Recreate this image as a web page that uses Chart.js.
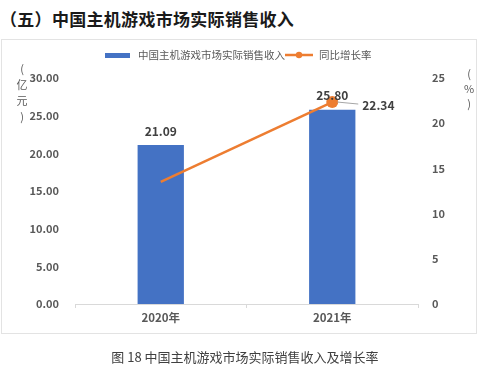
<!DOCTYPE html>
<html>
<head>
<meta charset="utf-8">
<script src="https://cdn.jsdelivr.net/npm/chart.js@4"></script>
<style>
  html, body { margin: 0; padding: 0; background: #fff; }
  #wrap { position: relative; width: 500px; height: 373px; overflow: hidden; font-family: "Noto Sans CJK SC", sans-serif; }
  #title { position: absolute; left: 0; top: 6px; font-size: 17px; font-weight: bold; color: #1a1a1a; letter-spacing: 0.3px; }
  #box { position: absolute; left: 1px; top: 39px; width: 476px; height: 295px; border: 1px solid #e3e3e3; box-sizing: border-box; }
  #chart { position: absolute; left: 0; top: 0; }
  #caption { position: absolute; left: 0; width: 490px; top: 347px; text-align: center; font-size: 13px; color: #404040; white-space: pre; }
</style>
</head>
<body>
<div id="wrap">
  <div id="title">（五）中国主机游戏市场实际销售收入</div>
  <div id="box"></div>
  <canvas id="chart" width="500" height="373"></canvas>
  <div id="caption">图 18 中国主机游戏市场实际销售收入及增长率</div>
</div>
<script>
// 数据
const years = ['2020年', '2021年'];
const revenue = [21.09, 25.80];          // 亿元
const growth = [13.5, 22.34];            // %
const growthLabels = [null, '22.34'];    // 只标注2021年
const leftTicks = [0, 5, 10, 15, 20, 25, 30];
const rightTicks = [0, 5, 10, 15, 20, 25];

const BLUE = '#4472c4';
const ORANGE = '#ed7d31';
const GREY = '#595959';
const FONT = '"Noto Sans CJK SC", sans-serif';

// 数据标签、轴标题、图例
const extras = {
  id: 'extras',
  afterDatasetsDraw(chart) {
    const ctx = chart.ctx;
    ctx.save();
    ctx.fillStyle = '#404040';
    ctx.font = 'bold 12px ' + FONT;
    ctx.textAlign = 'center';
    ctx.textBaseline = 'middle';
    chart.getDatasetMeta(0).data.forEach((bar, i) => {
      ctx.fillText(revenue[i].toFixed(2), bar.x, bar.y - 14);
    });
    chart.getDatasetMeta(1).data.forEach((pt, i) => {
      if (!growthLabels[i]) return;
      ctx.strokeStyle = '#a6a6a6';
      ctx.lineWidth = 1;
      ctx.beginPath();
      ctx.moveTo(pt.x + 5, pt.y);
      ctx.lineTo(pt.x + 26, pt.y + 2);
      ctx.stroke();
      ctx.textAlign = 'left';
      ctx.fillText(growthLabels[i], pt.x + 30, pt.y + 3);
    });

    // 轴标题
    ctx.fillStyle = GREY;
    ctx.font = '11px ' + FONT;
    ctx.textAlign = 'center';
    ['(', '亿', '元', ')'].forEach((c, i) => {
      ctx.fillText(c, 22, 69 + i * 16);
    });
    ['(', '%', ')'].forEach((c, i) => {
      ctx.fillText(c, 469, 74 + i * 15);
    });

    // 图例
    ctx.fillStyle = BLUE;
    ctx.fillRect(105, 53, 25, 5);
    ctx.fillStyle = GREY;
    ctx.font = '10.5px ' + FONT;
    ctx.textAlign = 'left';
    ctx.fillText(chart.data.datasets[0].label, 138, 55);
    ctx.strokeStyle = ORANGE;
    ctx.lineWidth = 2.5;
    ctx.beginPath();
    ctx.moveTo(285, 55);
    ctx.lineTo(313, 55);
    ctx.stroke();
    ctx.fillStyle = ORANGE;
    ctx.beginPath();
    ctx.arc(299, 55, 3.2, 0, Math.PI * 2);
    ctx.fill();
    ctx.fillStyle = GREY;
    ctx.fillText(chart.data.datasets[1].label, 319, 55);
    ctx.restore();
  }
};

new Chart(document.getElementById('chart'), {
  type: 'bar',
  data: {
    labels: years,
    datasets: [{
      type: 'bar',
      label: '中国主机游戏市场实际销售收入',
      data: revenue,
      backgroundColor: BLUE,
      yAxisID: 'y',
      barPercentage: 0.54,
      categoryPercentage: 0.5,
      order: 2
    }, {
      type: 'line',
      label: '同比增长率',
      data: growth,
      borderColor: ORANGE,
      backgroundColor: ORANGE,
      borderWidth: 2.5,
      pointRadius: [0, 6],
      pointHoverRadius: [0, 6],
      pointBorderWidth: 0,
      yAxisID: 'y1',
      order: 1
    }]
  },
  options: {
    responsive: false,
    animation: false,
    layout: { padding: { top: 78, left: 0, right: 0, bottom: 0 } },
    plugins: { legend: { display: false }, tooltip: { enabled: false } },
    scales: {
      x: {
        grid: { display: true, drawOnChartArea: false, tickLength: 4, color: '#d9d9d9', offset: true },
        border: { color: '#d9d9d9' },
        ticks: { color: GREY, font: { family: FONT, size: 11.5, weight: 'bold' }, padding: 3 },
        afterFit: s => { s.height = 69; }
      },
      y: {
        position: 'left',
        min: 0, max: 30,
        afterBuildTicks: s => { s.ticks = leftTicks.map(v => ({ value: v })); },
        grid: { display: false },
        border: { display: false },
        ticks: { color: GREY, font: { family: FONT, size: 11, weight: 'bold' }, padding: 8, callback: v => v.toFixed(2) },
        afterFit: s => { s.width = 75; }
      },
      y1: {
        position: 'right',
        min: 0, max: 25,
        afterBuildTicks: s => { s.ticks = rightTicks.map(v => ({ value: v })); },
        grid: { display: false },
        border: { display: false },
        ticks: { color: GREY, font: { family: FONT, size: 11, weight: 'bold' }, padding: 6 },
        afterFit: s => { s.width = 82; }
      }
    }
  },
  plugins: [extras]
});
</script>
</body>
</html>
